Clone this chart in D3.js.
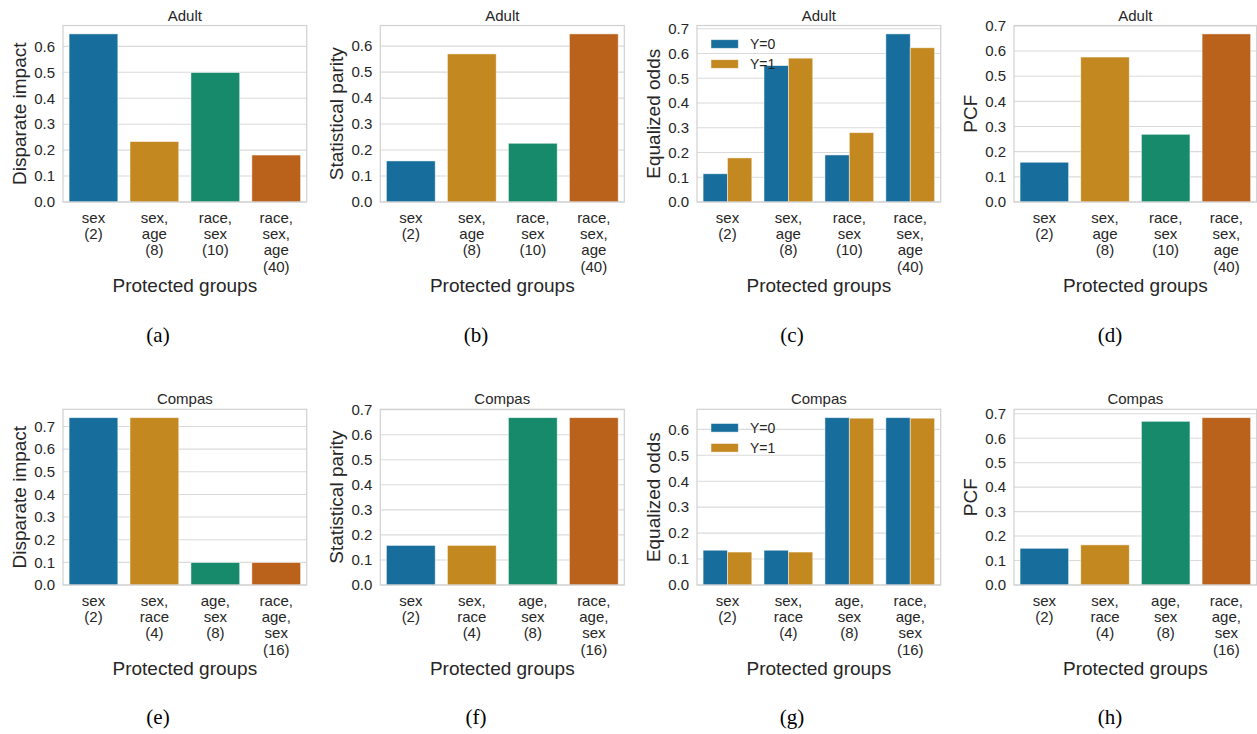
<!DOCTYPE html>
<html>
<head>
<meta charset="utf-8">
<script src="https://cdnjs.cloudflare.com/ajax/libs/d3/7.8.5/d3.min.js"></script>
<style>
  html, body { margin: 0; padding: 0; background: #ffffff; }
  svg { display: block; }
</style>
</head>
<body>
<svg id="chart" width="1257" height="734"></svg>
<script>
// ---------------- DATA ----------------
const adultGroups = ["sex\n(2)", "sex,\nage\n(8)", "race,\nsex\n(10)", "race,\nsex,\nage\n(40)"];
const compasGroups = ["sex\n(2)", "sex,\nrace\n(4)", "age,\nsex\n(8)", "race,\nage,\nsex\n(16)"];

const adultDisparateImpact = [0.648, 0.233, 0.499, 0.181];
const adultStatisticalParity = [0.158, 0.570, 0.226, 0.647];
const adultEqOddsY0 = [0.114, 0.551, 0.190, 0.679];
const adultEqOddsY1 = [0.178, 0.581, 0.280, 0.623];
const adultPCF = [0.158, 0.576, 0.269, 0.668];

const compasDisparateImpact = [0.739, 0.739, 0.099, 0.099];
const compasStatisticalParity = [0.158, 0.158, 0.668, 0.668];
const compasEqOddsY0 = [0.134, 0.134, 0.645, 0.645];
const compasEqOddsY1 = [0.127, 0.127, 0.643, 0.643];
const compasPCF = [0.150, 0.164, 0.669, 0.684];

const legendLabels = ["Y=0", "Y=1"];
const captions = ["(a)", "(b)", "(c)", "(d)", "(e)", "(f)", "(g)", "(h)"];
const palette = ["#176d9c", "#c38820", "#168a6a", "#ba611b"];

// ---------------- LAYOUT ----------------
const cols = [[63, 306.7], [380.3, 624.3], [697, 940.7], [1014, 1256.7]];
const rows = [[25.5, 202], [409.3, 585]];
const captionX = [158, 476, 792, 1110];
const captionY = [342, 724];

const panels = [
  {row: 0, col: 0, title: "Adult", ylabel: "Disparate impact", groups: adultGroups, series: [adultDisparateImpact]},
  {row: 0, col: 1, title: "Adult", ylabel: "Statistical parity", groups: adultGroups, series: [adultStatisticalParity]},
  {row: 0, col: 2, title: "Adult", ylabel: "Equalized odds", groups: adultGroups, series: [adultEqOddsY0, adultEqOddsY1], legend: true},
  {row: 0, col: 3, title: "Adult", ylabel: "PCF", groups: adultGroups, series: [adultPCF]},
  {row: 1, col: 0, title: "Compas", ylabel: "Disparate impact", groups: compasGroups, series: [compasDisparateImpact]},
  {row: 1, col: 1, title: "Compas", ylabel: "Statistical parity", groups: compasGroups, series: [compasStatisticalParity]},
  {row: 1, col: 2, title: "Compas", ylabel: "Equalized odds", groups: compasGroups, series: [compasEqOddsY0, compasEqOddsY1], legend: true},
  {row: 1, col: 3, title: "Compas", ylabel: "PCF", groups: compasGroups, series: [compasPCF]}
];

const sans = "'Liberation Sans', Arial, Helvetica, sans-serif";
const svg = d3.select("#chart");
svg.append("rect").attr("width", 1257).attr("height", 734).attr("fill", "#ffffff");

panels.forEach((p, idx) => {
  const [x0, x1] = cols[p.col];
  const [y0, y1] = rows[p.row];
  const g = svg.append("g");

  const ymax = d3.max(p.series.flat()) * 1.05;
  const y = d3.scaleLinear().domain([0, ymax]).range([y1, y0]);
  const x = d3.scaleBand().domain(p.groups).range([x0, x1]).paddingInner(0.2).paddingOuter(0.1);

  const ticks = d3.range(0, ymax + 1e-9, 0.1);

  // grid
  g.append("g")
    .selectAll("line").data(ticks).join("line")
    .attr("x1", x0).attr("x2", x1)
    .attr("y1", d => y(d)).attr("y2", d => y(d))
    .attr("stroke", "#dadada").attr("stroke-width", 1.1);

  // y axis
  const yAxis = d3.axisLeft(y).tickValues(ticks).tickFormat(d3.format(".1f")).tickSize(0).tickPadding(8);
  const ya = g.append("g").attr("transform", `translate(${x0},0)`).call(yAxis);
  ya.select(".domain").remove();
  ya.selectAll("text").attr("font-family", sans).attr("font-size", 15).attr("fill", "#262626");

  // x axis
  const xAxis = d3.axisBottom(x).tickSize(0).tickFormat("");
  const xa = g.append("g").attr("transform", `translate(0,${y1})`).call(xAxis);
  xa.select(".domain").remove();
  xa.selectAll(".tick").each(function(d) {
    const t = d3.select(this).append("text")
      .attr("text-anchor", "middle")
      .attr("font-family", sans).attr("font-size", 15).attr("fill", "#262626");
    d.split("\n").forEach((line, i) => {
      t.append("tspan").attr("x", 0).attr("y", 20.7 + i * 16.3).text(line);
    });
  });

  // bars
  const nS = p.series.length;
  const inner = d3.scaleBand().domain(d3.range(nS)).range([0, x.bandwidth()]).padding(0);
  p.series.forEach((vals, si) => {
    g.append("g").selectAll("rect").data(vals).join("rect")
      .attr("x", (d, i) => x(p.groups[i]) + inner(si))
      .attr("width", inner.bandwidth())
      .attr("y", d => y(d))
      .attr("height", d => y(0) - y(d))
      .attr("fill", (d, i) => nS > 1 ? palette[si] : palette[i])
      .attr("stroke", "#ffffff").attr("stroke-opacity", 0.6).attr("stroke-width", 0.8);
  });

  // frame
  g.append("rect").attr("x", x0).attr("y", y0).attr("width", x1 - x0).attr("height", y1 - y0)
    .attr("fill", "none").attr("stroke", "#d0d0d0").attr("stroke-width", 1.2);

  // title
  g.append("text").attr("x", (x0 + x1) / 2).attr("y", y0 - 5)
    .attr("text-anchor", "middle").attr("font-family", sans).attr("font-size", 15)
    .attr("fill", "#262626").text(p.title);

  // y label
  g.append("text")
    .attr("transform", `translate(${x0 - 37},${(y0 + y1) / 2}) rotate(-90)`)
    .attr("text-anchor", "middle").attr("font-family", sans).attr("font-size", 19)
    .attr("fill", "#262626").text(p.ylabel);

  // x label
  g.append("text").attr("x", (x0 + x1) / 2).attr("y", y1 + 89.7)
    .attr("text-anchor", "middle").attr("font-family", sans).attr("font-size", 19)
    .attr("fill", "#262626").text("Protected groups");

  // legend
  if (p.legend) {
    const lg = g.append("g");
    legendLabels.forEach((lab, li) => {
      const cy = y0 + 18.5 + li * 20;
      lg.append("rect").attr("x", x0 + 14).attr("y", cy - 4.3).attr("width", 27.3).attr("height", 8.6)
        .attr("fill", palette[li]).attr("stroke", "#ffffff").attr("stroke-opacity", 0.6).attr("stroke-width", 0.8);
      lg.append("text").attr("x", x0 + 53).attr("y", cy).attr("dy", "0.36em")
        .attr("font-family", sans).attr("font-size", 14).attr("fill", "#262626").text(lab);
    });
  }

  // caption
  svg.append("text").attr("x", captionX[p.col]).attr("y", captionY[p.row])
    .attr("text-anchor", "middle").attr("font-family", "'Liberation Serif', 'Times New Roman', serif")
    .attr("font-size", 21).attr("fill", "#000000").text(captions[idx]);
});
</script>
</body>
</html>
